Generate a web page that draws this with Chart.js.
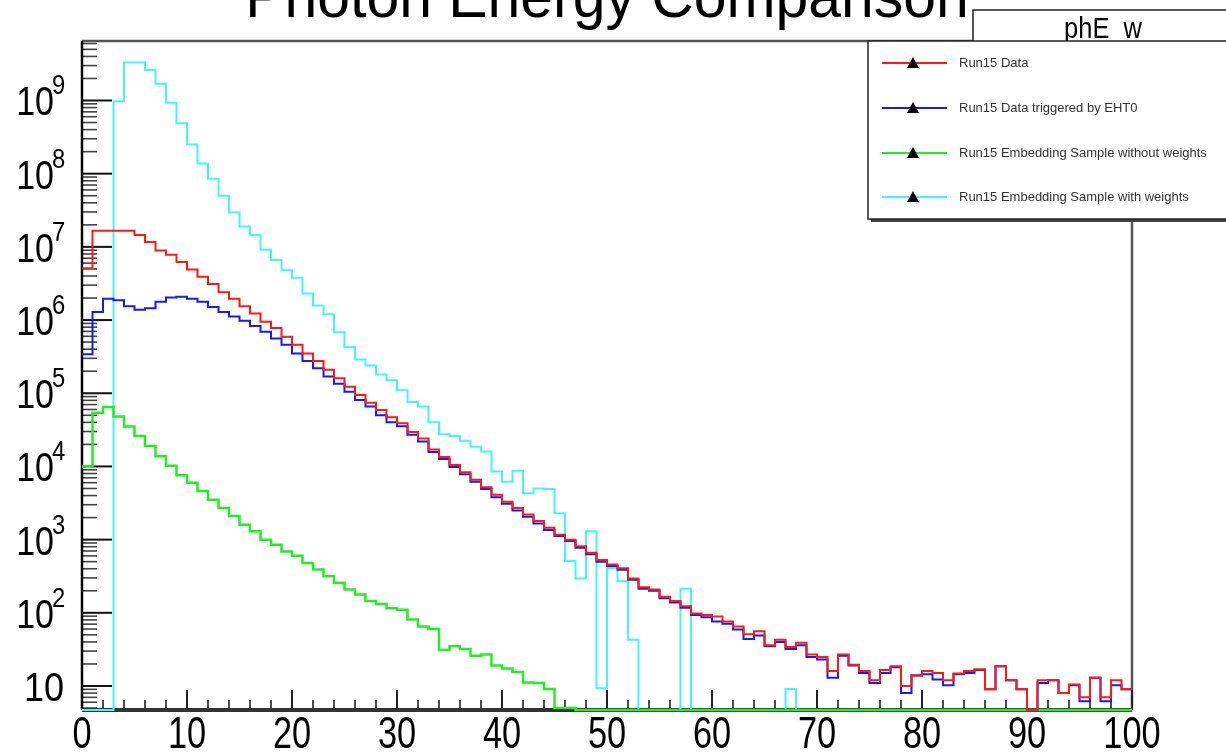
<!DOCTYPE html>
<html>
<head>
<meta charset="utf-8">
<script src="https://cdn.jsdelivr.net/npm/chart.js@4.4.0/dist/chart.umd.min.js"></script>
<style>
  html, body { margin: 0; padding: 0; background: #fff; }
  #wrap { width: 1226px; height: 756px; }
</style>
</head>
<body>
<div id="wrap"><canvas id="graph" width="1226" height="756"></canvas></div>
<script>
// phE_w histograms, 100 bins of width 1 from 0 to 100
const binEdges = [0, 1, 2, 3, 4, 5, 6, 7, 8, 9, 10, 11, 12, 13, 14, 15, 16, 17, 18, 19,
  20, 21, 22, 23, 24, 25, 26, 27, 28, 29, 30, 31, 32, 33, 34, 35, 36, 37, 38, 39,
  40, 41, 42, 43, 44, 45, 46, 47, 48, 49, 50, 51, 52, 53, 54, 55, 56, 57, 58, 59,
  60, 61, 62, 63, 64, 65, 66, 67, 68, 69, 70, 71, 72, 73, 74, 75, 76, 77, 78, 79,
  80, 81, 82, 83, 84, 85, 86, 87, 88, 89, 90, 91, 92, 93, 94, 95, 96, 97, 98, 99, 100];

const run15Data = [5.1e6, 1.66e7, 1.66e7, 1.66e7, 1.66e7, 1.45e7, 1.17e7, 8.9e6, 7.8e6, 6.2e6,
  4.9e6, 3.9e6, 3.1e6, 2.4e6, 1.95e6, 1.55e6, 1.23e6, 9.5e5, 7.8e5, 5.9e5,
  4.6e5, 3.5e5, 2.75e5, 2.1e5, 1.6e5, 1.23e5, 9.5e4, 7.4e4, 5.9e4, 4.7e4,
  3.9e4, 2.95e4, 2.4e4, 1.7e4, 1.35e4, 1.05e4, 8300, 6600, 5200, 4100,
  3300, 2700, 2200, 1800, 1450, 1170, 1000, 810, 660, 525,
  457, 407, 295, 224, 209, 166, 145, 123, 98, 93,
  89, 76, 65, 51, 56, 36, 43, 34, 39, 27,
  25, 16, 27, 19.5, 16, 12, 16.6, 18.6, 10, 13.8,
  16, 15, 12, 14.8, 16, 17, 9, 18.6, 12, 9,
  0, 12, 12, 8, 10.5, 7, 13, 7, 12, 9];

const run15EHT0 = [3.4e5, 1.29e6, 1.95e6, 1.86e6, 1.55e6, 1.38e6, 1.45e6, 1.78e6, 2.04e6, 2.09e6,
  1.95e6, 1.78e6, 1.51e6, 1.29e6, 1.12e6, 9.8e5, 8.3e5, 6.9e5, 5.6e5, 4.6e5,
  3.5e5, 2.75e5, 2.2e5, 1.7e5, 1.35e5, 1.05e5, 8.1e4, 6.6e4, 5.0e4, 4.0e4,
  3.55e4, 2.7e4, 2.2e4, 1.58e4, 1.26e4, 9800, 7800, 6200, 4900, 3800,
  3100, 2500, 2050, 1660, 1350, 1120, 955, 775, 630, 500,
  437, 389, 282, 214, 200, 158, 138, 117, 93, 87,
  76, 71, 59, 44, 49, 35, 40, 32, 36, 25,
  23, 13, 26, 19, 15, 11, 15, 18, 8, 14,
  14.5, 12.3, 10.2, 14.5, 15, 16.6, 9, 18.6, 12, 9,
  0, 11, 12, 8, 10.2, 6.2, 13, 6.2, 10.2, 9];

const embedNoWeights = [1.0e4, 5.4e4, 6.5e4, 4.8e4, 3.5e4, 2.6e4, 1.9e4, 1.38e4, 1.02e4, 7600,
  6000, 4600, 3500, 2700, 2100, 1600, 1300, 1000, 850, 690,
  600, 480, 390, 316, 257, 209, 178, 145, 132, 115,
  110, 81, 65, 60, 31, 35, 32, 26, 27, 19,
  17.4, 15.5, 11.2, 11, 9.1, 5, 5, 0, 0, 0,
  0, 0, 0, 0, 0, 0, 0, 0, 0, 0,
  0, 0, 0, 0, 0, 0, 0, 0, 0, 0,
  0, 0, 0, 0, 0, 0, 0, 0, 0, 0,
  0, 0, 0, 0, 0, 0, 0, 0, 0, 0,
  0, 0, 0, 0, 0, 0, 0, 0, 0, 0];

const embedWeights = [0, 0, 0, 9.8e8, 3.3e9, 3.3e9, 2.6e9, 1.7e9, 9.3e8, 4.9e8,
  2.5e8, 1.38e8, 8.5e7, 5.0e7, 2.95e7, 1.9e7, 1.45e7, 9.1e6, 6.6e6, 4.8e6,
  3.8e6, 2.3e6, 1.58e6, 1.2e6, 6.8e5, 4.3e5, 2.9e5, 2.4e5, 1.8e5, 1.5e5,
  1.1e5, 7.6e4, 6.6e4, 4.0e4, 2.75e4, 2.6e4, 2.25e4, 1.86e4, 1.6e4, 8500,
  6200, 8700, 4300, 5000, 4900, 2300, 510, 295, 1300, 9.3,
  410, 270, 43, 0, 0, 0, 0, 214, 0, 0,
  0, 0, 0, 0, 0, 0, 0, 9.1, 0, 0,
  0, 0, 0, 0, 0, 0, 0, 0, 0, 0,
  0, 0, 0, 0, 0, 0, 0, 0, 0, 0,
  0, 0, 0, 0, 0, 0, 0, 0, 0, 0];

const seriesNames = ['Run15 Data', 'Run15 Data triggered by EHT0',
  'Run15 Embedding Sample without weights', 'Run15 Embedding Sample with weights'];
const seriesColors = ['rgb(255,25,25)', 'rgb(25,25,250)', 'rgb(40,235,40)', 'rgb(70,245,245)'];

const xMajorTicks = [0, 10, 20, 30, 40, 50, 60, 70, 80, 90, 100];
const yDecades = [1, 2, 3, 4, 5, 6, 7, 8, 9];
const chartTitle = 'Photon Energy Comparison';
const statsTitle = 'phE_w';

const yMin = 4.7;
const yMax = 6.5e9;

// histogram as step outline: one point per lower bin edge plus closing edge;
// empty bins sit on the frame floor like ROOT draws them on a log axis
function toSteps(counts) {
  const floor = c => (c > 0 ? c : yMin);
  const pts = counts.map((c, i) => ({ x: binEdges[i], y: floor(c) }));
  pts.push({ x: binEdges[counts.length], y: floor(counts[counts.length - 1]) });
  return pts;
}

function narrowText(ctx, text, x, y, sx) {
  ctx.save();
  ctx.translate(x, y);
  ctx.scale(sx, 1);
  ctx.fillText(text, 0, 0);
  ctx.restore();
}

// frame and inward ROOT-like ticks, drawn under the histograms
const framePlugin = {
  id: 'framePlugin',
  beforeDatasetsDraw(chart) {
    const ctx = chart.ctx;
    const a = chart.chartArea;
    const xs = chart.scales.x;
    const ys = chart.scales.y;
    ctx.save();

    // top and right frame
    ctx.strokeStyle = '#555';
    ctx.lineWidth = 2.5;
    ctx.beginPath();
    ctx.moveTo(a.left, a.top);
    ctx.lineTo(a.right, a.top);
    ctx.lineTo(a.right, a.bottom);
    ctx.stroke();

    // x ticks, major every 10, minor every 2
    ctx.strokeStyle = '#222';
    for (let v = 0; v <= 100; v += 2) {
      const px = xs.getPixelForValue(v);
      const len = v % 10 === 0 ? 20 : 10;
      ctx.lineWidth = v % 10 === 0 ? 2 : 1.6;
      ctx.beginPath();
      ctx.moveTo(px, a.bottom);
      ctx.lineTo(px, a.bottom - len);
      ctx.stroke();
    }

    // y ticks on the log axis
    for (let k = 0; k <= 9; k++) {
      for (let m = 1; m <= 9; m++) {
        const v = m * Math.pow(10, k);
        if (v < ys.min || v > ys.max) continue;
        const py = ys.getPixelForValue(v);
        const len = m === 1 ? 30 : 15;
        ctx.lineWidth = m === 1 ? 2 : 1.6;
        ctx.strokeStyle = m === 1 ? '#111' : '#444';
        ctx.beginPath();
        ctx.moveTo(a.left, py);
        ctx.lineTo(a.left + len, py);
        ctx.stroke();
      }
    }

    // axis lines
    ctx.strokeStyle = '#000';
    ctx.lineWidth = 2.5;
    ctx.beginPath();
    ctx.moveTo(a.left, a.top);
    ctx.lineTo(a.left, a.bottom);
    ctx.stroke();
    ctx.strokeStyle = '#333';
    ctx.lineWidth = 4;
    ctx.beginPath();
    ctx.moveTo(a.left, a.bottom);
    ctx.lineTo(a.right, a.bottom);
    ctx.stroke();
    ctx.restore();
  }
};

// labels, title, stats box and legend on top
const decorPlugin = {
  id: 'decorPlugin',
  afterDraw(chart) {
    const ctx = chart.ctx;
    const xs = chart.scales.x;
    const ys = chart.scales.y;
    ctx.save();
    ctx.fillStyle = '#000';

    // x labels
    ctx.font = '44px "Liberation Sans", Arial, sans-serif';
    ctx.textAlign = 'center';
    ctx.textBaseline = 'alphabetic';
    xMajorTicks.forEach(v => {
      narrowText(ctx, String(v), xs.getPixelForValue(v), 748, 0.78);
    });

    // y labels as powers of ten
    yDecades.forEach(k => {
      const py = ys.getPixelForValue(Math.pow(10, k));
      ctx.textAlign = 'right';
      ctx.font = '40px "Liberation Sans", Arial, sans-serif';
      if (k === 1) {
        narrowText(ctx, '10', 64, py + 15, 0.9);
      } else {
        narrowText(ctx, '10', 54, py + 15, 0.85);
        ctx.textAlign = 'left';
        ctx.font = '28px "Liberation Sans", Arial, sans-serif';
        narrowText(ctx, String(k), 52, py - 6, 0.85);
      }
    });

    // title, partly above the canvas
    ctx.textAlign = 'center';
    ctx.font = '62px "Liberation Sans", Arial, sans-serif';
    narrowText(ctx, chartTitle, 607, 17, 0.95);

    // stats box
    ctx.fillStyle = '#fff';
    ctx.fillRect(973, 10, 300, 40);
    ctx.strokeStyle = '#222';
    ctx.lineWidth = 1.5;
    ctx.strokeRect(973, 10, 300, 40);
    ctx.fillStyle = '#000';
    ctx.font = '30px "Liberation Sans", Arial, sans-serif';
    narrowText(ctx, statsTitle, 1103, 38, 0.85);

    // legend box with shadow
    const lx = 868, ly = 41, lw = 380, lh = 178;
    ctx.fillStyle = '#444';
    ctx.fillRect(lx + 3, ly + lh, lw, 3);
    ctx.fillStyle = '#fff';
    ctx.fillRect(lx, ly, lw, lh);
    ctx.strokeStyle = '#222';
    ctx.lineWidth = 1.5;
    ctx.strokeRect(lx, ly, lw, lh);

    const rows = [63, 108, 153, 197];
    chart.data.datasets.forEach((ds, i) => {
      const ry = rows[i];
      ctx.strokeStyle = ds.borderColor;
      ctx.lineWidth = 2;
      ctx.beginPath();
      ctx.moveTo(882, ry);
      ctx.lineTo(947, ry);
      ctx.stroke();
      ctx.fillStyle = '#000';
      ctx.beginPath();
      ctx.moveTo(913, ry - 6);
      ctx.lineTo(919, ry + 5);
      ctx.lineTo(907, ry + 5);
      ctx.closePath();
      ctx.fill();
      ctx.fillStyle = '#333';
      ctx.font = '13px "Liberation Sans", Arial, sans-serif';
      ctx.textAlign = 'left';
      ctx.textBaseline = 'middle';
      ctx.fillText(ds.label, 959, ry);
    });
    ctx.restore();
  }
};

const datasets = [run15Data, run15EHT0, embedNoWeights, embedWeights].map((counts, i) => ({
  label: seriesNames[i],
  data: toSteps(counts),
  borderColor: seriesColors[i],
  backgroundColor: seriesColors[i],
  borderWidth: i === 2 ? 2.5 : 2,
  pointRadius: 0,
  fill: false,
  stepped: true,
  tension: 0,
  clip: { left: 2, top: 2, right: 2, bottom: 4 }
}));

new Chart(document.getElementById('graph'), {
  type: 'line',
  data: { datasets },
  options: {
    responsive: false,
    animation: false,
    events: [],
    layout: { padding: { left: 82, top: 41, right: 94, bottom: 46 } },
    scales: {
      x: { type: 'linear', min: 0, max: 100, display: false },
      y: { type: 'logarithmic', min: yMin, max: yMax, display: false }
    },
    plugins: {
      legend: { display: false },
      tooltip: { enabled: false }
    }
  },
  plugins: [framePlugin, decorPlugin]
});
</script>
</body>
</html>
